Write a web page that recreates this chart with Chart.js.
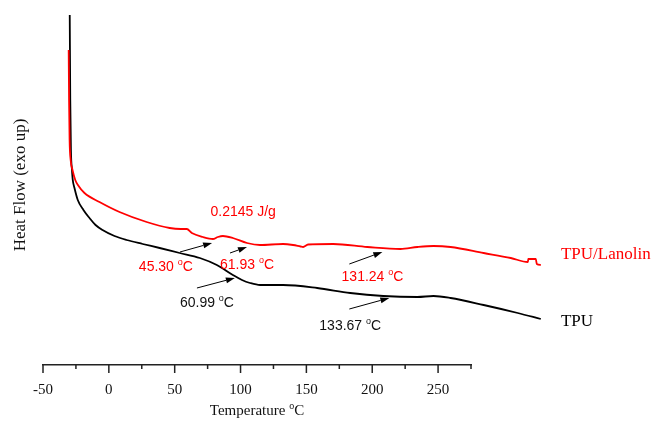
<!DOCTYPE html>
<html>
<head>
<meta charset="utf-8">
<script src="https://cdn.jsdelivr.net/npm/chart.js@4/dist/chart.umd.min.js"></script>
<style>
  body { margin: 0; background: #fff; }
  #wrap { width: 652px; height: 427px; }
</style>
</head>
<body>
<div id="wrap"><canvas id="dscChart" width="652" height="427"></canvas></div>
<script>
// DSC curves: temperature, heat flow in arbitrary units (exo up)
var seriesNames = ['TPU/Lanolin', 'TPU'];
var seriesColors = ['#ff0000', '#000000'];

var lanolinTemp = [-30.5, -30.2, -29.8, -29.0, -27.6, -25.5, -23.5, -18.5, -7.1, 8.1, 28.7, 46.2, 54.6, 59.2, 63.0, 71.4, 79.0, 82.8, 86.6, 94.2, 104.9, 114.8, 132.3, 139.9, 145.5, 147.5, 151.3, 170.4, 196.3, 221.4, 234.3, 246.5, 259.5, 284.6, 305.2, 318.2, 318.5, 324.2, 325.0, 328.0];
var lanolinFlow = [3.15, 2.65, 2.25, 2.05, 1.95, 1.85, 1.80, 1.72, 1.63, 1.53, 1.43, 1.37, 1.36, 1.36, 1.32, 1.28, 1.26, 1.28, 1.29, 1.27, 1.22, 1.20, 1.21, 1.20, 1.185, 1.18, 1.205, 1.21, 1.18, 1.16, 1.18, 1.19, 1.18, 1.12, 1.07, 1.03, 1.06, 1.06, 1.01, 1.00];

var tpuTemp = [-29.7, -29.3, -28.8, -28.0, -27.4, -26.1, -23.6, -19.3, -14.7, -10.1, -4.8, 4.3, 13.5, 25.7, 38.6, 53.8, 69.1, 82.0, 94.2, 101.1, 107.2, 114.8, 132.3, 158.2, 183.3, 208.4, 234.3, 246.5, 259.5, 284.6, 310.5, 328.0];
var tpuFlow = [3.50, 2.65, 2.15, 1.95, 1.85, 1.77, 1.65, 1.55, 1.47, 1.40, 1.35, 1.29, 1.25, 1.21, 1.17, 1.12, 1.07, 1.00, 0.90, 0.85, 0.82, 0.80, 0.80, 0.77, 0.72, 0.69, 0.68, 0.69, 0.67, 0.60, 0.52, 0.46];

var xTickStep = 25;   // labelled every 50
var xMin = -50, xMax = 275;

// transition notes (text centre, arrow tail, arrow head) in data units
var noteText  = ['0.2145 J/g', '45.30 °C', '61.93 °C', '131.24 °C', '60.99 °C', '133.67 °C'];
var noteColor = ['#ff0000', '#ff0000', '#ff0000', '#ff0000', '#111111', '#111111'];
var notePos   = [[102.0, 1.53], [43.3, 0.98], [104.9, 1.00], [200.2, 0.88], [74.5, 0.62], [183.3, 0.39]];
var arrowFrom = [null, [54.0, 1.13], [92.0, 1.12], [182.6, 1.01], [66.9, 0.77], [182.6, 0.56]];
var arrowTo   = [null, [78.4, 1.22], [104.9, 1.18], [207.7, 1.13], [95.7, 0.87], [213.0, 0.67]];

// series names written at the right end of each curve
var labelPos = [[343.3, 1.10], [343.3, 0.43]];

function toPoints(xs, ys) {
  return xs.map(function (x, i) { return { x: x, y: ys[i] }; });
}

// text with a raised small "o" in place of the degree sign
function drawDeg(ctx, str, x, y, size, family, align) {
  var i = str.indexOf('°');
  var a = i < 0 ? str : str.slice(0, i);
  var b = i < 0 ? '' : str.slice(i + 1);
  var big = size + 'px ' + family;
  var small = Math.round(size * 0.65) + 'px ' + family;
  ctx.font = big;
  var wa = ctx.measureText(a).width, wb = ctx.measureText(b).width;
  ctx.font = small;
  var wo = i < 0 ? 0 : ctx.measureText('o').width;
  var sx = align === 'left' ? x : x - (wa + wo + wb) / 2;
  ctx.textAlign = 'left';
  ctx.textBaseline = 'middle';
  ctx.font = big;
  ctx.fillText(a, sx, y);
  if (i >= 0) {
    ctx.font = small;
    ctx.fillText('o', sx + wa, y - size * 0.33);
    ctx.font = big;
    ctx.fillText(b, sx + wa + wo, y);
  }
}

function drawArrow(ctx, x1, y1, x2, y2) {
  var ang = Math.atan2(y2 - y1, x2 - x1), len = 9, w = 3;
  var bx = x2 - len * Math.cos(ang), by = y2 - len * Math.sin(ang);
  ctx.beginPath();
  ctx.moveTo(x1, y1);
  ctx.lineTo(bx, by);
  ctx.stroke();
  ctx.beginPath();
  ctx.moveTo(x2, y2);
  ctx.lineTo(bx + w * Math.sin(ang), by - w * Math.cos(ang));
  ctx.lineTo(bx - w * Math.sin(ang), by + w * Math.cos(ang));
  ctx.closePath();
  ctx.fill();
}

const notes = {
  id: 'notes',
  afterDraw(chart) {
    const ctx = chart.ctx, xs = chart.scales.x, ys = chart.scales.y;
    const area = chart.chartArea;
    ctx.save();
    // tick marks: long at labelled values, short in between
    ctx.strokeStyle = '#222';
    ctx.lineWidth = 1.5;
    xs.ticks.forEach(function (t) {
      const px = xs.getPixelForValue(t.value);
      const len = t.value % 50 === 0 ? 8 : 4;
      ctx.beginPath();
      ctx.moveTo(px, area.bottom);
      ctx.lineTo(px, area.bottom + len);
      ctx.stroke();
    });
    // x title
    ctx.fillStyle = '#111';
    drawDeg(ctx, 'Temperature °C', (area.left + area.right) / 2, 411, 15, '"Liberation Serif", "Times New Roman", serif', 'center');

    // notes and arrows
    ctx.lineWidth = 1;
    ctx.strokeStyle = '#000';
    noteText.forEach(function (txt, i) {
      if (arrowFrom[i]) {
        ctx.fillStyle = '#000';
        drawArrow(ctx,
          xs.getPixelForValue(arrowFrom[i][0]), ys.getPixelForValue(arrowFrom[i][1]),
          xs.getPixelForValue(arrowTo[i][0]), ys.getPixelForValue(arrowTo[i][1]));
      }
      ctx.fillStyle = noteColor[i];
      drawDeg(ctx, txt, xs.getPixelForValue(notePos[i][0]), ys.getPixelForValue(notePos[i][1]),
        14, '"Liberation Sans", Arial, sans-serif', 'center');
    });

    // series names
    seriesNames.forEach(function (name, i) {
      ctx.fillStyle = seriesColors[i];
      drawDeg(ctx, name, xs.getPixelForValue(labelPos[i][0]), ys.getPixelForValue(labelPos[i][1]),
        17, '"Liberation Serif", "Times New Roman", serif', 'left');
    });
    ctx.restore();
  }
};

var ctx = document.getElementById('dscChart').getContext('2d');
var dscChart = new Chart(ctx, {
  type: 'line',
  data: {
    datasets: [
      {
        label: seriesNames[0],
        data: toPoints(lanolinTemp, lanolinFlow),
        borderColor: seriesColors[0],
        borderWidth: 1.8,
        pointRadius: 0,
        cubicInterpolationMode: 'monotone',
        clip: false
      },
      {
        label: seriesNames[1],
        data: toPoints(tpuTemp, tpuFlow),
        borderColor: seriesColors[1],
        borderWidth: 1.8,
        pointRadius: 0,
        cubicInterpolationMode: 'monotone',
        clip: false
      }
    ]
  },
  plugins: [notes],
  options: {
    responsive: false,
    animation: false,
    layout: { padding: { top: 5, right: 181, left: 0, bottom: 0 } },
    plugins: {
      legend: { display: false },
      tooltip: { enabled: false }
    },
    scales: {
      x: {
        type: 'linear',
        bounds: 'ticks',
        // axis is drawn from -50 to 275; the curves run on past its end
        afterDataLimits: function (s) { s.min = xMin; s.max = xMax; },
        afterFit: function (s) { s.height = 62; },
        grid: { display: false, drawTicks: true, tickLength: 8 },
        border: { display: true, color: '#222', width: 1.5 },
        ticks: {
          stepSize: xTickStep,
          autoSkip: false,
          maxRotation: 0,
          padding: 8,
          color: '#111',
          font: { family: '"Liberation Serif", "Times New Roman", serif', size: 15 },
          callback: function (v) { return v % 50 === 0 ? String(v) : ''; }
        },
        title: { display: false }
      },
      y: {
        min: 0,
        max: 3.6,
        afterFit: function (s) { s.width = 43; },
        grid: { display: false },
        border: { display: false },
        ticks: { display: false },
        title: {
          display: true,
          text: 'Heat Flow (exo up)',
          color: '#111',
          padding: { top: 10, bottom: 0 },
          font: { family: '"Liberation Serif", "Times New Roman", serif', size: 17 }
        }
      }
    }
  }
});
</script>
</body>
</html>
